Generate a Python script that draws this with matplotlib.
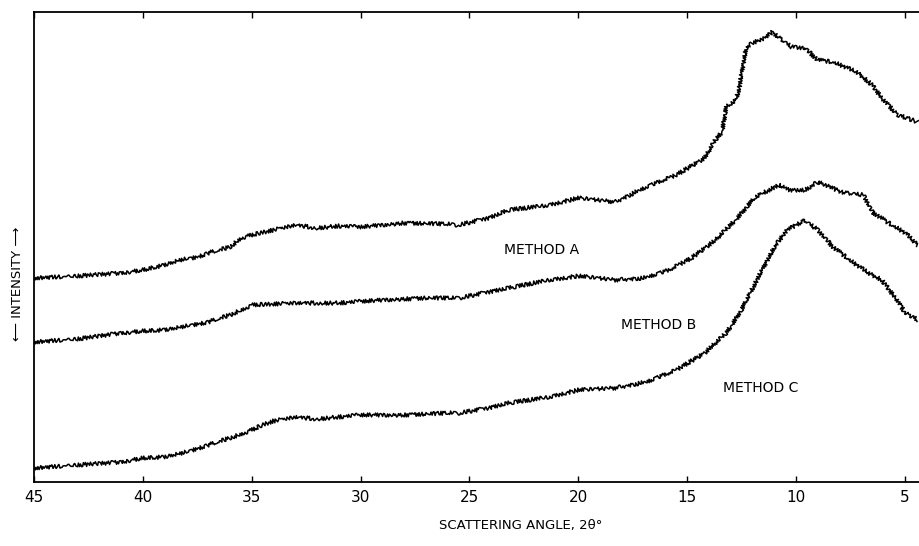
import matplotlib
matplotlib.use("Agg")
import matplotlib.pyplot as plt

plt.rcParams.update({"font.family": "DejaVu Sans", "font.size": 10})

# scattering angle (deg) and intensity (arbitrary units)
angle_a = [45, 43, 41, 40, 39, 38.3, 37.5, 37, 36, 35.5, 35, 34, 33, 32, 31, 30,
           28, 26, 25.5, 24.1, 23.2, 21.35, 20, 18.3, 16.9, 15.5, 14.2, 13.7,
           13.4, 13.2, 12.75, 12.6, 12.45, 12.3, 12.0, 11.4, 11.1, 10.2, 9.6,
           9.0, 8.3, 7.2, 6.5, 6.0, 5.3, 4.4]
method_a = [204, 206, 209, 212, 217, 222, 225, 229, 235, 244, 247, 252, 257, 254,
            256, 255, 259, 258, 257, 264, 272, 277, 284, 280, 295, 307, 324, 342,
            350, 375, 382, 395, 415, 434, 439, 444, 450, 435, 434, 422, 420, 410,
            397, 382, 367, 360]

angle_b = [45, 43, 41, 40, 39, 38, 37, 36, 35.5, 35, 34, 33, 31, 29, 27, 25.5,
           24.1, 23.2, 21.35, 20, 18.3, 17.0, 15.84, 14.8, 13.7, 12.78, 11.86,
           10.8, 10.3, 9.6, 9.0, 7.9, 6.9, 6.5, 5.74, 4.98, 4.4]
method_b = [140, 143, 149, 151, 152, 156, 160, 167, 172, 177, 178, 179, 179, 182,
            184, 184, 190, 194, 202, 206, 202, 204, 212, 224, 242, 262, 285, 297,
            292, 292, 300, 290, 287, 270, 259, 249, 237]

angle_c = [45, 43, 41, 40, 39, 38, 37, 36, 35, 34.5, 34, 33, 32, 31, 30, 28, 26,
           25.5, 24.1, 23.2, 21.35, 20, 18.3, 16.9, 15.5, 14.2, 13.2, 12.5, 11.8,
           11.0, 10.4, 9.6, 9.0, 8.3, 7.35, 6.66, 6.06, 5.44, 5.0, 4.4]
method_c = [14, 17, 20, 24, 25, 30, 37, 44, 52, 57, 61, 65, 63, 65, 67, 67, 69,
            69, 74, 79, 85, 92, 94, 100, 112, 129, 149, 172, 202, 235, 252, 262,
            252, 235, 219, 209, 202, 184, 170, 162]

x_ticks = [45, 40, 35, 30, 25, 20, 15, 10, 5]

fig = plt.figure(figsize=(9.19, 5.46), dpi=100)
ax = fig.add_axes([34 / 919, 64 / 546, 1 - 34 / 919, 470 / 546])

# the original trace is a noisy recorder line, so draw it rough
for xs, ys in [(angle_a, method_a), (angle_b, method_b), (angle_c, method_c)]:
    ln, = ax.plot(xs, ys, color="black", lw=1.1)
    ln.set_sketch_params(scale=2.0, length=2.0, randomness=2)

ax.text(21.7, 232, "METHOD A", ha="center", va="center", fontsize=10)
ax.text(16.3, 157, "METHOD B", ha="center", va="center", fontsize=10)
ax.text(11.6, 94, "METHOD C", ha="center", va="center", fontsize=10)

ax.set_xlim(45, 4.35)
ax.set_ylim(0, 470)
ax.set_xticks(x_ticks)
ax.set_yticks([])
ax.tick_params(axis="x", direction="in", top=True, length=4, width=1, labelsize=11, pad=6)
ax.spines["right"].set_visible(False)
for s in ["left", "top", "bottom"]:
    ax.spines[s].set_linewidth(1.3)

fig.text(521 / 919, 1 - 525 / 546, "SCATTERING ANGLE, 2\u03b8\u00b0", ha="center",
         va="center", fontsize=9.5)
fig.text(18 / 919, 1 - 284 / 546, "\u27f5 INTENSITY \u27f6", rotation=90,
         ha="center", va="center", fontsize=9.5)

fig.savefig("out.png", dpi=100)
